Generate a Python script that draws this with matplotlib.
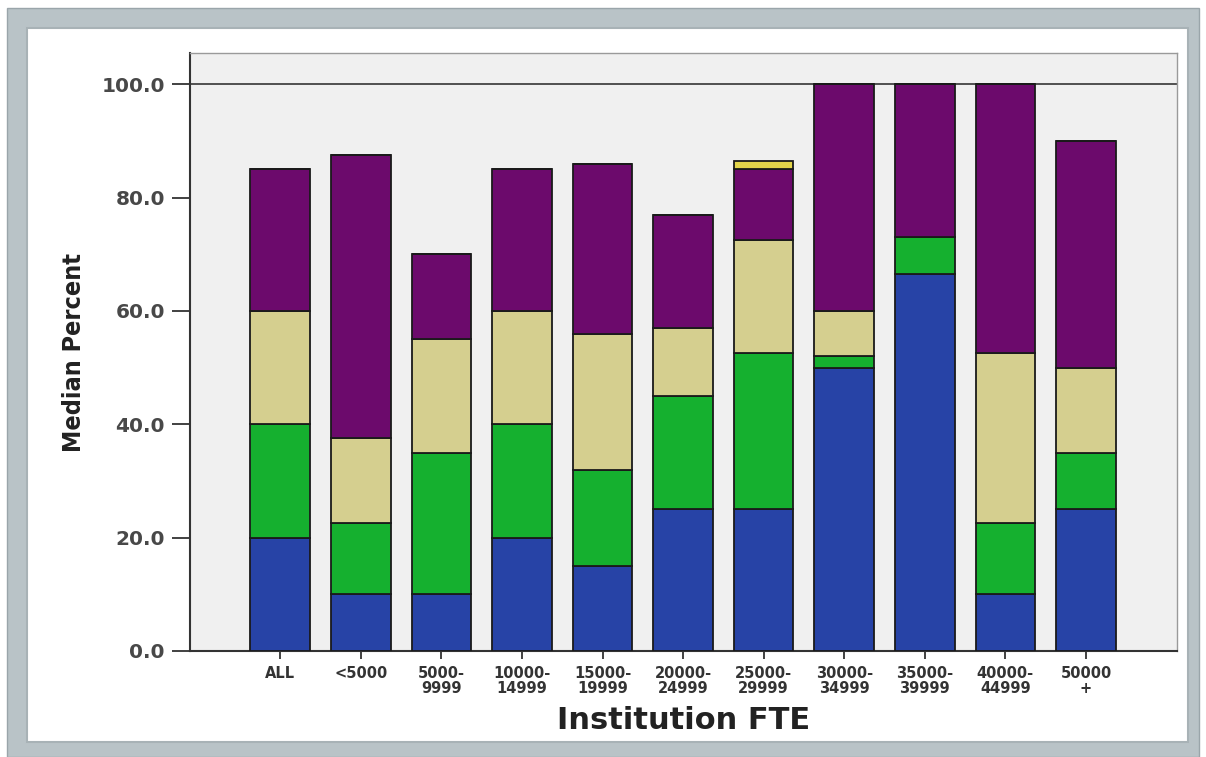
import matplotlib
matplotlib.use("Agg")
import matplotlib.pyplot as plt
from matplotlib.patches import Rectangle
import numpy as np

### Data
categories = ["ALL", "<5000", "5000-\n9999", "10000-\n14999", "15000-\n19999",
              "20000-\n24999", "25000-\n29999", "30000-\n34999", "35000-\n39999",
              "40000-\n44999", "50000\n+"]

# segment heights (median percent), bottom to top
blue = [20, 10, 10, 20, 15, 25, 25, 50, 66.5, 10, 25]
green = [20, 12.5, 25, 20, 17, 20, 27.5, 2, 6.5, 12.5, 10]
tan = [20, 15, 20, 20, 24, 12, 20, 8, 0, 30, 15]
purple = [25, 50, 15, 25, 30, 20, 12.5, 40, 27, 47.5, 40]
yellow = [0, 0, 0, 0, 0, 0, 1.5, 0, 0, 0, 0]

series = [blue, green, tan, purple, yellow]
colors = ["#2743a6", "#15b02f", "#d5cf8f", "#6c0a6c", "#e3d54a"]

### Figure
fig = plt.figure(figsize=(12.06, 7.57), dpi=100)
fig.patch.set_facecolor("white")

# gray picture frame
W, H = 1206, 757
fig.patches.append(Rectangle((7 / W, 0), (1199 - 7) / W, (749) / H, transform=fig.transFigure,
                             facecolor="#b9c3c7", edgecolor="#9aa5aa", lw=1, zorder=-10))
fig.patches.append(Rectangle((27 / W, 15 / H), (1188 - 27) / W, (729 - 15) / H, transform=fig.transFigure,
                             facecolor="white", edgecolor="#a8b2b6", lw=1.5, zorder=-9))

ax = fig.add_axes([190 / W, 1 - 651 / H, (1177 - 190) / W, (651 - 53) / H])
ax.set_facecolor("#f0f0f0")

x = np.arange(len(categories))
bottom = np.zeros(len(categories))
for vals, c in zip(series, colors):
    v = np.array(vals, dtype=float)
    ax.bar(x, v, 0.74, bottom=bottom, color=c, edgecolor="#1a1a1a", linewidth=1.3, zorder=3)
    bottom += v

ax.axhline(100, color="#444444", lw=1.3, zorder=2)

ax.set_xlim(-1.12, len(categories) - 1 + 1.13)
ax.set_ylim(0, 105.5)
ax.set_yticks([0, 20, 40, 60, 80, 100])
ax.set_yticklabels(["0.0", "20.0", "40.0", "60.0", "80.0", "100.0"],
                   family="DejaVu Sans", fontsize=14.5, fontweight="bold", color="#484848")
ax.set_xticks(x)
ax.set_xticklabels(categories, family="DejaVu Sans", fontsize=10.5, fontweight="bold",
                   color="#333333", linespacing=1.0)

ax.tick_params(axis="y", length=13, width=1.3, color="#333333", pad=5)
ax.tick_params(axis="x", length=6, width=1.3, color="#333333", pad=5)

for s in ["left", "bottom"]:
    ax.spines[s].set_color("#333333")
    ax.spines[s].set_linewidth(1.5)
for s in ["top", "right"]:
    ax.spines[s].set_color("#9a9a9a")
    ax.spines[s].set_linewidth(1.0)

ax.set_ylabel("Median Percent", family="DejaVu Sans", fontstretch="condensed", fontsize=18,
              fontweight="bold", color="#222222", labelpad=11)
ax.set_xlabel("Institution FTE", family="DejaVu Sans", fontsize=22,
              fontweight="bold", color="#222222", labelpad=7)

fig.savefig("out.png", dpi=100)
